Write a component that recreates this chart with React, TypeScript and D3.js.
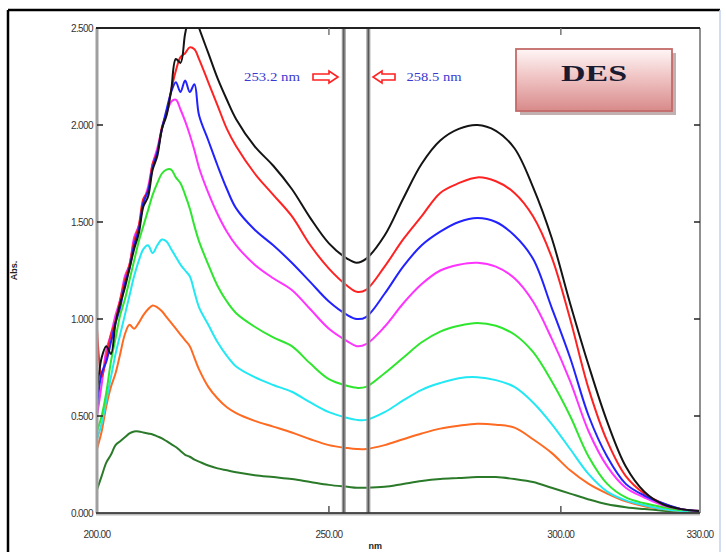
import React from "react";
import * as d3 from "d3";

const wavelengths = [
  200, 201, 202, 203, 204, 205, 206, 207, 208, 209, 210, 211, 212, 213, 214, 215, 216, 217, 218, 219, 220, 221, 222,
  224, 226, 228, 230, 234, 238, 242, 246, 250, 254, 256, 258, 262, 266, 270, 274, 278, 282, 286, 290, 294, 298, 302, 306, 310, 314, 318, 322, 326, 330,
];

const blackAbs = [
  0.62, 0.8, 0.86, 0.82, 0.98, 1.08, 1.16, 1.26, 1.36, 1.44, 1.58, 1.63, 1.77, 1.84, 1.98, 2.05, 2.18, 2.34, 2.32, 2.47, 2.56, 2.57, 2.5,
  2.37, 2.24, 2.13, 2.03, 1.89, 1.79, 1.67, 1.52, 1.39, 1.31, 1.29, 1.31, 1.43, 1.62, 1.8, 1.92, 1.98, 2.0, 1.97, 1.88, 1.68, 1.42, 1.08, 0.76, 0.47, 0.24, 0.11, 0.045, 0.02, 0.01,
];
const redAbs = [
  0.95, 0.7, 0.8, 0.92, 0.99, 1.1, 1.2, 1.28, 1.4, 1.48, 1.62, 1.66, 1.8, 1.86, 1.99, 2.06, 2.18, 2.28, 2.35, 2.37, 2.4, 2.39, 2.34,
  2.22, 2.1, 1.98, 1.89, 1.75, 1.64, 1.53, 1.38, 1.26, 1.17, 1.14, 1.15, 1.27, 1.41, 1.53, 1.65, 1.7, 1.73, 1.71, 1.65, 1.53, 1.32, 1.0, 0.64, 0.37, 0.19, 0.1, 0.05, 0.02, 0.01,
];
const blueAbs = [
  0.55, 0.72, 0.78, 0.88, 0.98, 1.06, 1.18, 1.26, 1.38, 1.46, 1.6, 1.66, 1.78, 1.86, 1.98, 2.08, 2.17, 2.22, 2.17, 2.23, 2.17, 2.21, 2.05,
  1.92, 1.79, 1.67, 1.57, 1.46, 1.38, 1.29, 1.19, 1.09, 1.02, 1.0, 1.01, 1.13, 1.27, 1.38, 1.45, 1.5, 1.52, 1.5, 1.43, 1.31, 1.06, 0.8, 0.5, 0.29, 0.15, 0.09, 0.05, 0.02, 0.01,
];
const magentaAbs = [
  0.5, 0.66, 0.84, 0.92, 1.02, 1.1, 1.22, 1.28, 1.42, 1.48, 1.6, 1.68, 1.8, 1.88, 1.98, 2.06, 2.12, 2.13, 2.08, 2.02, 1.95, 1.87, 1.78,
  1.65, 1.54, 1.45, 1.38, 1.28, 1.21, 1.15, 1.05, 0.95, 0.885, 0.86, 0.87, 0.96, 1.08, 1.18, 1.25, 1.28, 1.29, 1.27, 1.21, 1.09, 0.9, 0.68, 0.42, 0.24, 0.13, 0.08, 0.04, 0.02, 0.01,
];
const greenAbs = [
  0.42, 0.5, 0.62, 0.78, 0.9, 1.02, 1.1, 1.2, 1.3, 1.4, 1.48, 1.56, 1.64, 1.7, 1.75, 1.77, 1.77, 1.73, 1.7, 1.64, 1.57, 1.48, 1.4,
  1.28, 1.17, 1.09, 1.03, 0.96, 0.905, 0.86, 0.77, 0.69, 0.655, 0.645, 0.65, 0.72, 0.8, 0.88, 0.935, 0.965, 0.98, 0.965, 0.92, 0.83, 0.68, 0.5, 0.29, 0.15, 0.08, 0.05, 0.03, 0.015, 0.01,
];
const cyanAbs = [
  0.38, 0.46, 0.58, 0.7, 0.82, 0.92, 1.02, 1.12, 1.22, 1.3, 1.36, 1.38, 1.34, 1.38, 1.41, 1.4, 1.36, 1.32, 1.28, 1.25, 1.22, 1.14, 1.06,
  0.97, 0.88, 0.81, 0.755, 0.7, 0.66, 0.625, 0.57, 0.52, 0.49, 0.48, 0.48, 0.52, 0.58, 0.635, 0.67, 0.695, 0.7, 0.685, 0.65, 0.57, 0.46, 0.33, 0.2, 0.11, 0.065, 0.04, 0.02, 0.01, 0.01,
];
const orangeAbs = [
  0.33, 0.42, 0.55, 0.65, 0.72, 0.82, 0.92, 0.97, 0.95, 0.98, 1.02, 1.05, 1.07, 1.06, 1.04, 1.01, 0.98, 0.95, 0.92, 0.89, 0.86, 0.8, 0.74,
  0.65, 0.59, 0.545, 0.515, 0.475, 0.445, 0.415, 0.38, 0.35, 0.335, 0.33, 0.33, 0.35, 0.38, 0.41, 0.435, 0.45, 0.46, 0.455, 0.44, 0.38, 0.31, 0.22, 0.15, 0.1, 0.06, 0.035, 0.02, 0.01, 0.01,
];
const darkGreenAbs = [
  0.12, 0.19, 0.26, 0.3, 0.35, 0.37, 0.39, 0.41, 0.42, 0.42, 0.415, 0.41, 0.405, 0.395, 0.385, 0.37, 0.355, 0.34, 0.32, 0.3, 0.29, 0.275, 0.265,
  0.245, 0.23, 0.22, 0.21, 0.195, 0.185, 0.175, 0.16, 0.145, 0.135, 0.13, 0.13, 0.135, 0.15, 0.165, 0.175, 0.18, 0.185, 0.185, 0.175, 0.16, 0.13, 0.1, 0.07, 0.045, 0.03, 0.02, 0.012, 0.006, 0.004,
];

const seriesList = [
  { name: "c8", values: darkGreenAbs, color: "#2a7a2a" },
  { name: "c7", values: orangeAbs, color: "#ff6a22" },
  { name: "c6", values: cyanAbs, color: "#22e8f4" },
  { name: "c5", values: greenAbs, color: "#2ee62e" },
  { name: "c4", values: magentaAbs, color: "#ff33ff" },
  { name: "c3", values: redAbs, color: "#ff2222" },
  { name: "c2", values: blueAbs, color: "#2222ff" },
  { name: "c1", values: blackAbs, color: "#141414" },
];

const yTicks = [0, 0.5, 1.0, 1.5, 2.0, 2.5];
const xTicks = [200, 250, 300, 330];
const markerLines = [253.2, 258.5];
const markerLabels = ["253.2 nm", "258.5 nm"];
const sampleName = "DES";
const yTitle = "Abs.";
const xTitle = "nm";

export default function App() {
  const left = 97, right = 700, top = 28, bottom = 513;
  const x = d3.scaleLinear().domain([200, 330]).range([left, right]);
  const y = d3.scaleLinear().domain([0, 2.5]).range([bottom, top]);
  const line = d3
    .line<number>()
    .x((_, i) => x(wavelengths[i]))
    .y((v) => y(v))
    .curve(d3.curveCatmullRom.alpha(0.5));

  const arrowR = (x0: number, x1: number, cy: number) => {
    const h = 3, hh = 6, hl = 9;
    return `M${x0},${cy - h} L${x1 - hl},${cy - h} L${x1 - hl},${cy - hh} L${x1},${cy} L${x1 - hl},${cy + hh} L${x1 - hl},${cy + h} L${x0},${cy + h} Z`;
  };
  const arrowL = (x0: number, x1: number, cy: number) => {
    const h = 3, hh = 6, hl = 9;
    return `M${x1},${cy - h} L${x0 + hl},${cy - h} L${x0 + hl},${cy - hh} L${x0},${cy} L${x0 + hl},${cy + hh} L${x0 + hl},${cy + h} L${x1},${cy + h} Z`;
  };

  return (
    <svg
      width={726}
      height={552}
      style={{ position: "absolute", left: 0, top: 0, background: "#fff" }}
      fontFamily="Arial, Liberation Sans, sans-serif"
    >
      <defs>
        <clipPath id="plotClip">
          <rect x={left} y={top} width={right - left} height={bottom - top} />
        </clipPath>
        <linearGradient id="boxGrad" x1="0" y1="0" x2="0" y2="1">
          <stop offset="0" stopColor="#fff6f6" />
          <stop offset="0.45" stopColor="#f0c4c4" />
          <stop offset="1" stopColor="#d88a8a" />
        </linearGradient>
      </defs>
      <rect x={0} y={0} width={726} height={552} fill="#fff" />
      {/* outer frame */}
      <line x1={8} y1={10} x2={8} y2={552} stroke="#000" strokeWidth={2.5} />
      <line x1={8} y1={10} x2={720} y2={10} stroke="#000" strokeWidth={2.5} />
      <line x1={720} y1={10} x2={720} y2={552} stroke="#c4d2ee" strokeWidth={1.5} />

      {/* curves */}
      <g clipPath="url(#plotClip)">
        {seriesList.map((s) => (
          <path key={s.name} d={line(s.values) || ""} fill="none" stroke={s.color} strokeWidth={2} strokeLinejoin="round" />
        ))}
      </g>

      {/* marker lines */}
      {markerLines.map((m) => (
        <g key={m}>
          <line x1={x(m)} y1={top} x2={x(m)} y2={bottom} stroke="#9a9a9a" strokeWidth={4} />
          <line x1={x(m)} y1={top} x2={x(m)} y2={bottom} stroke="#555" strokeWidth={1.2} />
        </g>
      ))}

      {/* axes frame */}
      <line x1={left} y1={top} x2={left} y2={bottom} stroke="#a0a0a0" strokeWidth={3} />
      <line x1={right} y1={top} x2={right} y2={bottom} stroke="#909090" strokeWidth={2} />
      <line x1={left - 1} y1={top} x2={right} y2={top} stroke="#222" strokeWidth={2} />
      <line x1={left - 1} y1={bottom + 1} x2={right} y2={bottom + 1} stroke="#bbb" strokeWidth={3} />
      <line x1={left - 1} y1={bottom} x2={right} y2={bottom} stroke="#222" strokeWidth={1.5} />

      {/* y ticks */}
      {yTicks.map((t) => (
        <g key={t}>
          {t > 0 && t < 2.5 && (
            <>
              <line x1={left} y1={y(t)} x2={left + 6} y2={y(t)} stroke="#222" strokeWidth={1.5} />
              <line x1={right - 6} y1={y(t)} x2={right} y2={y(t)} stroke="#222" strokeWidth={1.5} />
            </>
          )}
          <text x={left - 4} y={y(t) + 3.5} textAnchor="end" fontSize={10} fill="#333" letterSpacing={-0.6}>
            {d3.format(".3f")(t)}
          </text>
        </g>
      ))}

      {/* x ticks */}
      {xTicks.map((t) => (
        <g key={t}>
          {t > 200 && t < 330 && (
            <>
              <line x1={x(t)} y1={bottom} x2={x(t)} y2={bottom - 7} stroke="#555" strokeWidth={1.5} />
              <line x1={x(t)} y1={top} x2={x(t)} y2={top + 7} stroke="#777" strokeWidth={1.5} />
            </>
          )}
          <text x={x(t)} y={bottom + 25} textAnchor="middle" fontSize={10} fill="#333" letterSpacing={-0.6}>
            {d3.format(".2f")(t)}
          </text>
        </g>
      ))}

      {/* axis titles */}
      <text transform={`translate(17,${(top + bottom) / 2}) rotate(-90)`} textAnchor="middle" fontSize={9} fontWeight="bold" fill="#222">
        {yTitle}
      </text>
      <text x={x(260)} y={549} textAnchor="middle" fontSize={9} fontWeight="bold" fill="#222">
        {xTitle}
      </text>

      {/* marker annotations */}
      <text x={272} y={81} textAnchor="middle" fontSize={12} fill="#3a3ad0" fontFamily="Liberation Serif, serif" textLength={56} lengthAdjust="spacingAndGlyphs">
        {markerLabels[0]}
      </text>
      <path d={arrowR(313, 338, 77)} fill="#fff" stroke="#ff2020" strokeWidth={1.6} />
      <path d={arrowL(373, 395, 77)} fill="#fff" stroke="#ff2020" strokeWidth={1.6} />
      <text x={434} y={81} textAnchor="middle" fontSize={12} fill="#3a3ad0" fontFamily="Liberation Serif, serif" textLength={55} lengthAdjust="spacingAndGlyphs">
        {markerLabels[1]}
      </text>

      {/* sample box */}
      <rect x={520} y={53} width={156} height={62} fill="#9a7a7a" opacity={0.6} />
      <rect x={516} y={49} width={156} height={62} fill="url(#boxGrad)" stroke="#c46a6a" strokeWidth={1.8} />
      <text x={594} y={81} textAnchor="middle" fontSize={24} fontWeight="bold" fill="#1a1a30" fontFamily="Liberation Serif, serif" textLength={66} lengthAdjust="spacingAndGlyphs">
        {sampleName}
      </text>
    </svg>
  );
}
